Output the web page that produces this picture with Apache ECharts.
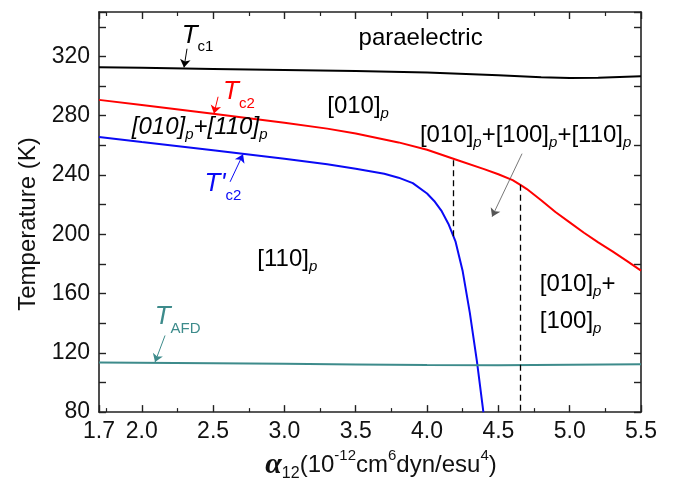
<!DOCTYPE html>
<html>
<head>
<meta charset="utf-8">
<script src="https://cdn.jsdelivr.net/npm/echarts@6/dist/echarts.min.js"></script>
<style>
  html, body { margin: 0; padding: 0; background: #fff; }
  #chart { width: 674px; height: 487px; }
</style>
</head>
<body>
<div id="chart"></div>
<script>
// phase boundaries (x: alpha12, y: temperature in K)
const tc1X = [1.7, 2.0, 2.5, 3.0, 3.5, 4.0, 4.5, 4.8, 5.0, 5.2, 5.5];
const tc1Y = [312.7, 312.3, 311.6, 310.9, 310.2, 309.2, 307.3, 305.9, 305.5, 305.7, 306.6];

const tc2X = [1.7, 2.0, 2.5, 3.0, 3.3, 3.5, 3.8, 4.0, 4.2, 4.4, 4.5, 4.6, 4.66, 4.7, 4.8, 4.9, 5.0, 5.1, 5.2, 5.3, 5.4, 5.5];
const tc2Y = [290.7, 287.2, 281.3, 275.3, 271.3, 268, 262, 257, 250.5, 244, 240.5, 236.5, 233, 230.5, 223, 215, 208, 201, 194.5, 188.5, 182, 175.5];

const tc2pX = [1.7, 2.0, 2.5, 3.0, 3.3, 3.5, 3.7, 3.8, 3.9, 4.0, 4.05, 4.1, 4.15, 4.2, 4.25, 4.3, 4.35, 4.395];
const tc2pY = [265.6, 262.2, 256.7, 251, 247.3, 244.2, 240.8, 238.2, 234.5, 227.5, 222.5, 216, 207, 195, 175, 147, 114, 80];

const tafdX = [1.7, 2.5, 3.0, 3.5, 4.0, 4.5, 5.0, 5.5];
const tafdY = [113.5, 113, 112.6, 112.2, 111.8, 111.6, 111.9, 112.3];

// dashed vertical phase boundaries
const dashX = [4.185, 4.655];
const dashTop = [250, 233.5];
const dashBottom = [198, 80];

const yTicks = [80, 120, 160, 200, 240, 280, 320];

const FONT = '"Liberation Sans", Arial, sans-serif';
const zip = (xs, ys) => xs.map((x, i) => [x, ys[i]]);

function mkRich(color, big) {
  return {
    T: { fontStyle: 'italic', fontSize: 26, color, fontFamily: FONT, lineHeight: big ? 38 : 30 },
    n: { fontSize: 24, color, fontFamily: FONT, lineHeight: 30 },
    ni: { fontSize: 24, fontStyle: 'italic', color, fontFamily: FONT, lineHeight: 30 },
    s: { fontSize: 15, color, fontFamily: FONT, verticalAlign: 'bottom', lineHeight: 15 },
    p: { fontSize: 15, fontStyle: 'italic', color, fontFamily: FONT, verticalAlign: 'bottom', lineHeight: 15 }
  };
}

function textMark(coord, text, color, big) {
  return {
    coord,
    symbolSize: 0,
    label: { show: true, position: 'right', distance: 0, formatter: text, rich: mkRich(color, big) }
  };
}

function arrow(from, to, color, width) {
  return [
    { coord: from, lineStyle: { color, width, type: 'solid' } },
    { coord: to }
  ];
}

const chart = echarts.init(document.getElementById('chart'));

const frameAxis = {
  axisLine: { lineStyle: { color: '#222', width: 1.6 } },
  axisTick: { inside: true, length: 7, lineStyle: { color: '#222', width: 1.4 } },
  splitLine: { show: false }
};

const option = {
  animation: false,
  grid: { left: 99, right: 33, top: 12, bottom: 73, containLabel: false },
  xAxis: [{
    type: 'value', min: 1.7, max: 5.5, splitNumber: 8, ...frameAxis,
    minorTick: { show: true, splitNumber: 2, length: 4, lineStyle: { color: '#222', width: 1.2 } },
    axisLabel: { color: '#111', fontSize: 23, fontFamily: FONT, margin: 8, formatter: v => v.toFixed(1) },
    name: '{a|α}{s|12}{n|(10}{u|-12}{n|cm}{u|6}{n|dyn/esu}{u|4}{n|)}',
    nameLocation: 'middle', nameGap: 35,
    nameTextStyle: {
      padding: [0, 0, 0, 22],
      rich: {
        a: { fontSize: 30, fontWeight: 'bold', fontStyle: 'italic', fontFamily: '"Liberation Serif", serif', color: '#111', lineHeight: 34 },
        s: { fontSize: 16, fontFamily: FONT, color: '#111', verticalAlign: 'bottom', lineHeight: 16 },
        n: { fontSize: 24, fontFamily: FONT, color: '#111', lineHeight: 34 },
        u: { fontSize: 15, fontFamily: FONT, color: '#111', verticalAlign: 'top', lineHeight: 15 }
      }
    }
  }, {
    type: 'value', position: 'top', min: 1.7, max: 5.5, splitNumber: 8, ...frameAxis,
    minorTick: { show: true, splitNumber: 2, length: 4, lineStyle: { color: '#222', width: 1.2 } },
    axisLabel: { show: false }
  }],
  yAxis: [{
    type: 'value', min: 80, max: 350, interval: 20, ...frameAxis,
    axisLabel: {
      color: '#111', fontSize: 23, fontFamily: FONT, margin: 9,
      formatter: v => (yTicks.includes(v) ? String(v) : '')
    },
    // trailing gap token pushes the rotated title a little down, as in the figure
    name: '{t|Temperature (K)}{g| }', nameLocation: 'middle', nameGap: 58,
    nameTextStyle: {
      rich: {
        t: { color: '#111', fontSize: 24, fontFamily: FONT },
        g: { fontSize: 24, width: 24 }
      }
    }
  }, {
    type: 'value', position: 'right', min: 80, max: 350, interval: 20, ...frameAxis,
    axisLabel: { show: false }
  }],
  series: [
    {
      name: 'Tc1', type: 'line', data: zip(tc1X, tc1Y), showSymbol: false,
      lineStyle: { color: '#000', width: 2 }, silent: true,
      markPoint: {
        silent: true,
        data: [
          textMark([2.28, 334], '{T|T}{s|c1}', '#000', true),
          textMark([3.52, 332.5], '{n|paraelectric}', '#000'),
          textMark([3.3, 286.5], '{n|[010]}{p|p}', '#000'),
          textMark([1.93, 272.5], '{ni|[010]}{p|p}{ni|+[110]}{p|p}', '#000'),
          textMark([2.81, 183], '{n|[110]}{p|p}', '#000'),
          textMark([3.95, 266.5], '{n|[010]}{p|p}{n|+[100]}{p|p}{n|+[110]}{p|p}', '#000'),
          textMark([4.79, 166.5], '{n|[010]}{p|p}{n|+}', '#000'),
          textMark([4.79, 141], '{n|[100]}{p|p}', '#000')
        ]
      },
      markLine: {
        silent: true, symbol: ['none', 'arrow'], symbolSize: 8,
        label: { show: false },
        data: [
          arrow([2.317, 325.2], [2.296, 312.6], '#000', 1),
          arrow([4.666, 254.4], [4.456, 211.9], '#555', 0.8),
          [{ coord: [dashX[0], dashTop[0]], symbol: 'none', lineStyle: { color: '#000', width: 1.3, type: [6, 4] } },
           { coord: [dashX[0], dashBottom[0]], symbol: 'none' }],
          [{ coord: [dashX[1], dashTop[1]], symbol: 'none', lineStyle: { color: '#000', width: 1.3, type: [6, 4] } },
           { coord: [dashX[1], dashBottom[1]], symbol: 'none' }]
        ]
      }
    },
    {
      name: 'Tc2', type: 'line', data: zip(tc2X, tc2Y), showSymbol: false,
      lineStyle: { color: '#ff0000', width: 2 }, silent: true,
      markPoint: { silent: true, data: [textMark([2.57, 296], '{T|T}{s|c2}', '#ff0000', true)] },
      markLine: {
        silent: true, symbol: ['none', 'arrow'], symbolSize: 8, label: { show: false },
        data: [arrow([2.535, 292.8], [2.506, 281.5], '#ff0000', 1)]
      }
    },
    {
      name: "T'c2", type: 'line', data: zip(tc2pX, tc2pY), showSymbol: false,
      lineStyle: { color: '#0a0af5', width: 2 }, silent: true,
      markPoint: { silent: true, data: [textMark([2.44, 234], "{T|T'}{s|c2}", '#0a0af5', true)] },
      markLine: {
        silent: true, symbol: ['none', 'arrow'], symbolSize: 8, label: { show: false },
        data: [arrow([2.619, 235.4], [2.71, 254.0], '#0a0af5', 1)]
      }
    },
    {
      name: 'TAFD', type: 'line', data: zip(tafdX, tafdY), showSymbol: false,
      lineStyle: { color: '#3d8b8b', width: 2 }, silent: true,
      markPoint: { silent: true, data: [textMark([2.09, 144], '{T|T}{s|AFD}', '#3d8b8b', true)] },
      markLine: {
        silent: true, symbol: ['none', 'arrow'], symbolSize: 8, label: { show: false },
        data: [arrow([2.163, 131.7], [2.093, 113.8], '#3d8b8b', 1)]
      }
    }
  ]
};

chart.setOption(option);
</script>
</body>
</html>
